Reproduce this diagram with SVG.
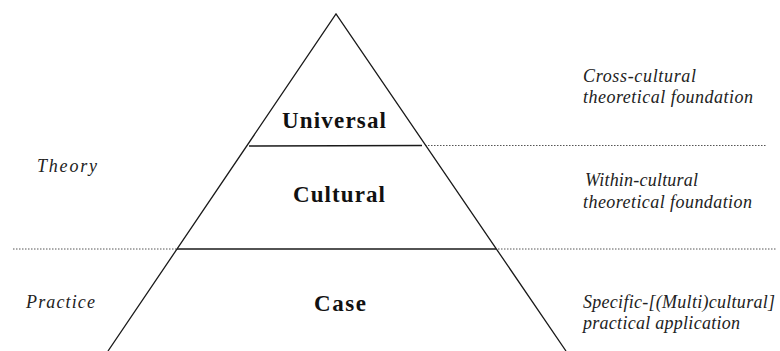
<svg xmlns="http://www.w3.org/2000/svg" width="780" height="351" viewBox="0 0 780 351">
<style>
.edge{stroke:#1a1a1a;stroke-width:1.3;fill:none}
.dot{stroke:#555;stroke-width:1;stroke-dasharray:1.5 1.5;fill:none}
.lvl{font-family:"Liberation Serif","Times New Roman",Tinos,"DejaVu Serif",serif;font-weight:bold;font-size:23px;fill:#111;text-anchor:middle}
.note{font-family:"Liberation Serif","Times New Roman",Tinos,"DejaVu Serif",serif;font-style:italic;font-size:18px;fill:#222}
</style>
<rect width="780" height="351" fill="#fff"/>
<g id="connectors">
<line class="dot" x1="425" y1="145.5" x2="767" y2="145.5"/>
<line class="dot" x1="13" y1="249" x2="178" y2="249"/>
<line class="dot" x1="498" y1="249" x2="777" y2="249"/>
</g>
<g id="pyramid">
<polyline class="edge" points="108,351 336,14 566,351"/>
<line class="edge" x1="249" y1="146" x2="422" y2="145.5"/>
<line class="edge" x1="177" y1="249" x2="496" y2="249"/>
</g>
<g id="universal"><text class="lvl" x="334" y="128" textLength="104" lengthAdjust="spacing">Universal</text></g>
<g id="cultural"><text class="lvl" x="339" y="202" textLength="92" lengthAdjust="spacing">Cultural</text></g>
<g id="case"><text class="lvl" x="340" y="311" textLength="52" lengthAdjust="spacing">Case</text></g>
<g id="theory"><text class="note" x="37" y="172" textLength="60" lengthAdjust="spacing">Theory</text></g>
<g id="practice"><text class="note" x="26" y="308" textLength="69" lengthAdjust="spacing">Practice</text></g>
<g id="note-universal">
<text class="note" x="583" y="82" textLength="113" lengthAdjust="spacing">Cross-cultural</text>
<text class="note" x="583" y="103" textLength="170" lengthAdjust="spacing">theoretical foundation</text>
</g>
<g id="note-cultural">
<text class="note" x="585" y="186" textLength="113" lengthAdjust="spacing">Within-cultural</text>
<text class="note" x="583" y="208" textLength="169" lengthAdjust="spacing">theoretical foundation</text>
</g>
<g id="note-case">
<text class="note" x="583" y="308" textLength="192" lengthAdjust="spacing">Specific-[(Multi)cultural]</text>
<text class="note" x="583" y="329" textLength="157" lengthAdjust="spacing">practical application</text>
</g>
</svg>
